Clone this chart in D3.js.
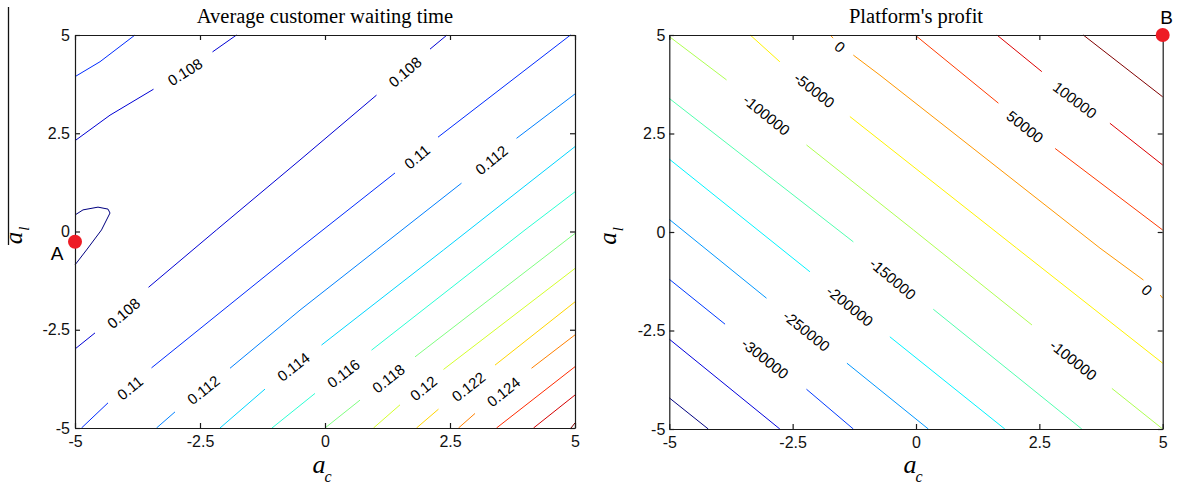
<!DOCTYPE html>
<html>
<head>
<meta charset="utf-8">
<title>Waiting time and profit contours</title>
<style>
  body { margin: 0; background: #fff; }
  svg { display: block; font-family: "Liberation Sans", Arial, sans-serif; }
</style>
</head>
<body>
<svg id="chart" width="1179" height="488"></svg>
<script src="https://cdn.jsdelivr.net/npm/d3@7"></script>
<script>
// axis ticks (both panels)
var ticks = [-5, -2.5, 0, 2.5, 5];

// left panel: average customer waiting time, contour levels and traced lines [a_c, a_l]
var waitLevels = [0.106, 0.108, 0.11, 0.112, 0.114, 0.116, 0.118, 0.12, 0.122, 0.124, 0.126, 0.128, 0.13];
var waitLines = [
    {level: 0.106, pieces: [[[-5, 0.42], [-4.84, 0.55], [-4.54, 0.62], [-4.34, 0.57], [-4.3, 0.47], [-4.47, 0.04], [-4.77, -0.47], [-5, -0.85]]]},
    {level: 0.108, pieces: [[[-5, 2.31], [-4.3, 2.96], [-3.43, 3.62]], [[-2.25, 4.57], [-1.77, 5]]]},
    {level: 0.108, pieces: [[[-5, -2.99], [-4.6, -2.58]], [[-3.53, -1.42], [-2.17, 0.04], [-0.5, 1.82], [1.03, 3.47]], [[2.1, 4.64], [2.44, 5]]]},
    {level: 0.11, pieces: [[[-5, 3.94], [-4.5, 4.32], [-3.8, 5]]]},
    {level: 0.11, pieces: [[[-4.87, -5], [-4.34, -4.36]], [[-3.47, -3.47], [-0.5, -0.42], [1.4, 1.49]], [[2.26, 2.4], [4.91, 5]]]},
    {level: 0.112, pieces: [[[-3.37, -5], [-3.0, -4.59]], [[-1.9, -3.48], [-0.5, -2.0], [1.03, -0.47], [2.73, 1.23]], [[3.83, 2.37], [5, 3.5]]]},
    {level: 0.114, pieces: [[[-2.1, -5], [-1.2, -4.01]], [[-0.07, -2.89], [2.37, -0.47], [5, 2.16]]]},
    {level: 0.116, pieces: [[[-1.06, -5], [-0.2, -4.12]], [[0.93, -3.02], [4.0, 0.04], [5, 1.01]]]},
    {level: 0.118, pieces: [[[0.0, -5], [0.7, -4.29]], [[1.8, -3.19], [5, -0.05]]]},
    {level: 0.12, pieces: [[[0.97, -5], [1.5, -4.41]], [[2.37, -3.51], [5, -0.94]]]},
    {level: 0.122, pieces: [[[1.83, -5], [2.27, -4.52]], [[3.4, -3.4], [5, -1.79]]]},
    {level: 0.124, pieces: [[[2.67, -5], [3.0, -4.63]], [[4.13, -3.48], [5, -2.63]]]},
    {level: 0.126, pieces: [[[3.43, -5], [5, -3.44]]]},
    {level: 0.128, pieces: [[[4.17, -5], [5, -4.16]]]},
    {level: 0.13, pieces: [[[4.92, -5], [5, -4.87]]]}
];
var waitLabels = [
    {level: 0.108, at: [-2.8, 4.06]}, {level: 0.108, at: [1.6, 4.06]}, {level: 0.108, at: [-4.03, -2.08]},
    {level: 0.11, at: [-3.9, -3.98]}, {level: 0.11, at: [1.84, 1.9]},
    {level: 0.112, at: [-2.43, -4.03]}, {level: 0.112, at: [3.33, 1.82]},
    {level: 0.114, at: [-0.63, -3.44]}, {level: 0.116, at: [0.37, -3.61]},
    {level: 0.118, at: [1.27, -3.74]}, {level: 0.12, at: [1.97, -3.99]},
    {level: 0.122, at: [2.87, -3.95]}, {level: 0.124, at: [3.57, -4.08]}
];
var pointA = {name: "A", at: [-5, -0.26]};

// right panel: platform's profit
var profitLevels = [-400000, -350000, -300000, -250000, -200000, -150000, -100000, -50000, 0, 50000, 100000, 150000];
var profitLines = [
    {level: -400000, pieces: [[[-5, -4.21], [-4.21, -5]]]},
    {level: -350000, pieces: [[[-5, -2.72], [-2.76, -5]]]},
    {level: -300000, pieces: [[[-5, -1.2], [-3.87, -2.34]], [[-2.22, -3.99], [-1.27, -5]]]},
    {level: -250000, pieces: [[[-5, 0.32], [-3.03, -1.68]], [[-1.4, -3.33], [0.25, -5]]]},
    {level: -200000, pieces: [[[-5, 1.85], [-2.15, -1.01]], [[-0.53, -2.66], [1.8, -5]]]},
    {level: -150000, pieces: [[[-5, 3.39], [-1.27, -0.25]], [[0.35, -1.96], [3.36, -5]]]},
    {level: -100000, pieces: [[[-5, 4.96], [-3.84, 3.86]], [[-2.22, 2.21], [-0.05, 0.05], [2.35, -2.36]], [[3.97, -3.97], [5, -5]]]},
    {level: -50000, pieces: [[[-3.36, 5], [-2.76, 4.32]], [[-1.34, 2.93], [2.04, -0.41], [5, -3.33]]]},
    {level: 0, pieces: [[[-1.74, 5], [-1.68, 4.92]], [[-1.27, 4.49], [-0.73, 3.98], [3.73, -0.41], [4.61, -1.22]], [[4.95, -1.6], [5, -1.68]]]},
    {level: 50000, pieces: [[[-0.02, 5], [1.67, 3.27]], [[2.82, 2.12], [5, 0.05]]]},
    {level: 100000, pieces: [[[1.64, 5], [2.55, 4.07]], [[3.93, 2.76], [5, 1.7]]]},
    {level: 150000, pieces: [[[3.39, 5], [5, 3.43]]]}
];
var profitLabels = [
    {level: -300000, at: [-3.06, -3.21]}, {level: -250000, at: [-2.22, -2.51]},
    {level: -200000, at: [-1.34, -1.88]}, {level: -150000, at: [-0.47, -1.19]},
    {level: -100000, at: [-3.03, 2.97]}, {level: -100000, at: [3.19, -3.25]},
    {level: -50000, at: [-2.06, 3.6]}, {level: 0, at: [-1.54, 4.7]}, {level: 0, at: [4.68, -1.47]},
    {level: 50000, at: [2.21, 2.67]}, {level: 100000, at: [3.22, 3.35]}
];
var pointB = {name: "B", at: [5, 5]};

var svg = d3.select("#chart");

function clamp(v) { return Math.max(0, Math.min(1, v)); }
// matlab jet colormap
function jet(t) {
    var r = clamp(1.5 - Math.abs(4 * t - 3)),
        g = clamp(1.5 - Math.abs(4 * t - 2)),
        b = clamp(1.5 - Math.abs(4 * t - 1));
    return d3.rgb(r * 255, g * 255, b * 255).formatHex();
}

function drawPanel(p) {
    var x = d3.scaleLinear().domain([-5, 5]).range([p.x0, p.x1]);
    var y = d3.scaleLinear().domain([-5, 5]).range([p.y1, p.y0]);
    var levelT = d3.scaleLinear().domain(d3.extent(p.levels)).range([0, 1]);
    var g = svg.append("g");

    var line = d3.line()
        .x(function (d) { return x(d[0]); })
        .y(function (d) { return y(d[1]); });

    p.lines.forEach(function (c) {
        c.pieces.forEach(function (pc) {
            g.append("path")
                .attr("d", line(pc))
                .attr("fill", "none")
                .attr("stroke", jet(levelT(c.level)))
                .attr("stroke-width", 1);
        });
    });

    // labels follow the gap they sit in
    p.labels.forEach(function (lb) {
        var lx = x(lb.at[0]), ly = y(lb.at[1]);
        var best = null, bestD = Infinity;
        p.lines.forEach(function (c) {
            if (c.level !== lb.level) return;
            for (var i = 0; i < c.pieces.length - 1; i++) {
                var a = c.pieces[i][c.pieces[i].length - 1], b = c.pieces[i + 1][0];
                var ax = x(a[0]), ay = y(a[1]), bx = x(b[0]), by = y(b[1]);
                var dd = Math.hypot((ax + bx) / 2 - lx, (ay + by) / 2 - ly);
                if (dd < bestD) { bestD = dd; best = [ax, ay, bx, by]; }
            }
        });
        var ang = best ? Math.atan2(best[3] - best[1], best[2] - best[0]) * 180 / Math.PI : 0;
        if (ang > 90) ang -= 180;
        if (ang < -90) ang += 180;
        g.append("text")
            .attr("transform", "translate(" + lx + "," + ly + ") rotate(" + ang + ")")
            .attr("text-anchor", "middle")
            .attr("dy", "0.36em")
            .style("font-size", "15px")
            .attr("fill", "#000")
            .text(String(lb.level));
    });

    // axes, ticks pointing inward on all four sides
    var bottom = g.append("g").attr("transform", "translate(0," + p.y1 + ")")
        .call(d3.axisBottom(x).tickValues(ticks).tickFormat(String).tickSizeInner(-5).tickSizeOuter(0).tickPadding(8));
    var left = g.append("g").attr("transform", "translate(" + p.x0 + ",0)")
        .call(d3.axisLeft(y).tickValues(ticks).tickFormat(String).tickSizeInner(-5).tickSizeOuter(0).tickPadding(p.pad));
    var top = g.append("g").attr("transform", "translate(0," + p.y0 + ")")
        .call(d3.axisTop(x).tickValues(ticks).tickFormat("").tickSizeInner(-5).tickSizeOuter(0));
    var right = g.append("g").attr("transform", "translate(" + p.x1 + ",0)")
        .call(d3.axisRight(y).tickValues(ticks).tickFormat("").tickSizeInner(-5).tickSizeOuter(0));
    [bottom, left, top, right].forEach(function (ax) {
        ax.attr("font-family", null).attr("font-size", null);
        ax.selectAll("path, line").attr("stroke", "#1a1a1a").attr("stroke-width", 1.2);
        ax.selectAll("text").style("font-size", "16px").attr("fill", "#111");
    });

    // title
    g.append("text")
        .attr("x", (p.x0 + p.x1) / 2).attr("y", 23)
        .attr("text-anchor", "middle")
        .style("font-family", "'Liberation Serif', 'Times New Roman', serif")
        .style("font-size", "20.5px")
        .text(p.title);

    // axis labels a_c and a_l
    var xl = g.append("text")
        .attr("x", (p.x0 + p.x1) / 2 - 3).attr("y", 473)
        .attr("text-anchor", "middle")
        .style("font-family", "'Liberation Serif', 'Times New Roman', serif")
        .style("font-style", "italic");
    xl.append("tspan").style("font-size", "26px").text("a");
    xl.append("tspan").attr("dy", 9).attr("dx", -1).style("font-size", "16px").text("c");

    var yl = g.append("text")
        .attr("transform", "translate(" + p.ylx + "," + ((p.y0 + p.y1) / 2 + 4) + ") rotate(-90)")
        .attr("text-anchor", "middle")
        .style("font-family", "'Liberation Serif', 'Times New Roman', serif")
        .style("font-style", "italic");
    yl.append("tspan").style("font-size", "25px").text("a");
    yl.append("tspan").attr("dy", 7).attr("dx", 1).style("font-size", "15px").text("l");

    // marked point
    g.append("circle")
        .attr("cx", x(p.point.at[0])).attr("cy", y(p.point.at[1]))
        .attr("r", 7).attr("fill", "#ee1c25");
    g.append("text")
        .attr("x", x(p.point.at[0]) + p.pdx).attr("y", y(p.point.at[1]) + p.pdy)
        .attr("text-anchor", "middle")
        .style("font-size", "19px")
        .attr("fill", "#000")
        .text(p.point.name);
}

drawPanel({
    x0: 75, x1: 575, y0: 35, y1: 428, pad: 5, ylx: 22,
    levels: waitLevels, lines: waitLines, labels: waitLabels,
    title: "Average customer waiting time",
    point: pointA, pdx: -18, pdy: 18
});
drawPanel({
    x0: 669.3, x1: 1162.7, y0: 35, y1: 429, pad: 4, ylx: 616,
    levels: profitLevels, lines: profitLines, labels: profitLabels,
    title: "Platform's profit",
    point: pointB, pdx: 4, pdy: -11
});

// stray vertical rule at the far left of the figure
svg.append("line")
    .attr("x1", 8.5).attr("x2", 8.5).attr("y1", 7).attr("y2", 245)
    .attr("stroke", "#111").attr("stroke-width", 1.3);
</script>
</body>
</html>
